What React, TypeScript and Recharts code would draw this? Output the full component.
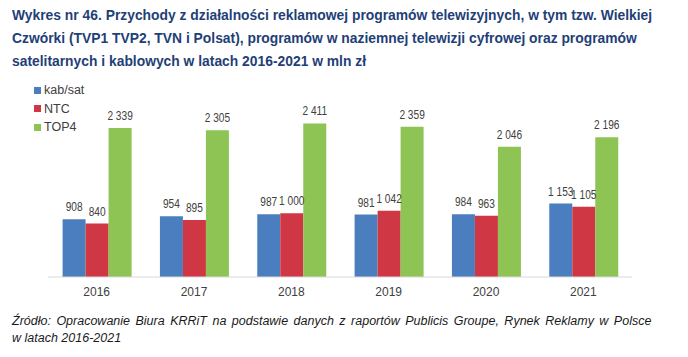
import { BarChart, Bar, XAxis, YAxis, LabelList } from "recharts";

const years = ["2016", "2017", "2018", "2019", "2020", "2021"];
const kabSat = [908, 954, 987, 981, 984, 1153];
const ntc = [840, 895, 1000, 1042, 963, 1105];
const top4 = [2339, 2305, 2411, 2359, 2046, 2196];

const series = [
  { key: "kabSat", name: "kab/sat", color: "#4a7ebe" },
  { key: "ntc", name: "NTC", color: "#cf3744" },
  { key: "top4", name: "TOP4", color: "#8dc454" },
];

const data = years.map((year, i) => ({
  year,
  kabSat: kabSat[i],
  ntc: ntc[i],
  top4: top4[i],
}));

const fmt = (v: any) => {
  const s = String(Number(v));
  return s.length > 3 ? s.slice(0, s.length - 3) + "\u00a0" + s.slice(-3) : s;
};

const font = "'Liberation Sans', Arial, sans-serif";

// value label drawn a bit narrower, like the Calibri labels in the original
const BarLabel = (props: any) => {
  const { x, y, width, value } = props;
  const cx = Number(x) + Number(width) / 2;
  return (
    <text
      x={cx}
      y={Number(y) - 8}
      textAnchor="middle"
      fontSize={13}
      fill="#404040"
      fontFamily={font}
      transform={`translate(${cx},0) scale(0.78,1) translate(${-cx},0)`}
    >
      {fmt(value)}
    </text>
  );
};

export default function App() {
  return (
    <div
      style={{
        position: "absolute",
        left: 0,
        top: 0,
        width: 688,
        height: 357,
        background: "#fff",
        fontFamily: font,
        overflow: "hidden",
      }}
    >
      <div
        style={{
          position: "absolute",
          left: 12,
          top: 4,
          fontSize: 14.5,
          fontWeight: "bold",
          lineHeight: "23px",
          color: "#1f3f78",
          whiteSpace: "nowrap",
          transform: "scaleX(0.955)",
          transformOrigin: "left top",
        }}
      >
        <div>Wykres nr 46. Przychody z działalności reklamowej programów telewizyjnych, w tym tzw. Wielkiej</div>
        <div>Czwórki (TVP1 TVP2, TVN i Polsat), programów w naziemnej telewizji cyfrowej oraz programów</div>
        <div>satelitarnych i kablowych w latach 2016-2021 w mln zł</div>
      </div>

      <div style={{ position: "absolute", left: 34, top: 81 }}>
        {series.map((s) => (
          <div
            key={s.key}
            style={{
              display: "flex",
              alignItems: "center",
              height: 18.5,
              fontSize: 12.5,
              color: "#404040",
            }}
          >
            <span
              style={{
                width: 7,
                height: 7,
                background: s.color,
                marginRight: 3,
                display: "inline-block",
              }}
            />
            {s.name}
          </div>
        ))}
      </div>

      <div style={{ position: "absolute", left: 0, top: 0 }}>
        <BarChart
          width={688}
          height={310}
          data={data}
          margin={{ top: 86, right: 56, bottom: 3, left: 48 }}
          barCategoryGap="15%"
          barGap={0}
        >
          <XAxis
            dataKey="year"
            axisLine={{ stroke: "#d9d9d9" }}
            tickLine={false}
            tickMargin={4}
            height={30}
            tick={{ fontSize: 12, fill: "#404040", fontFamily: font }}
          />
          <YAxis hide domain={[0, 3000]} />
          {series.map((s) => (
            <Bar
              key={s.key}
              dataKey={s.key}
              name={s.name}
              fill={s.color}
              isAnimationActive={false}
            >
              <LabelList dataKey={s.key} content={BarLabel} />
            </Bar>
          ))}
        </BarChart>
      </div>

      <div
        style={{
          position: "absolute",
          left: 12,
          top: 313,
          fontSize: 12.5,
          fontStyle: "italic",
          lineHeight: "17px",
          color: "#1a1a1a",
          whiteSpace: "nowrap",
        }}
      >
        <div style={{ wordSpacing: 2 }}>
          Źródło: Opracowanie Biura KRRiT na podstawie danych z raportów Publicis Groupe, Rynek Reklamy w Polsce
        </div>
        <div>w latach 2016-2021</div>
      </div>
    </div>
  );
}
